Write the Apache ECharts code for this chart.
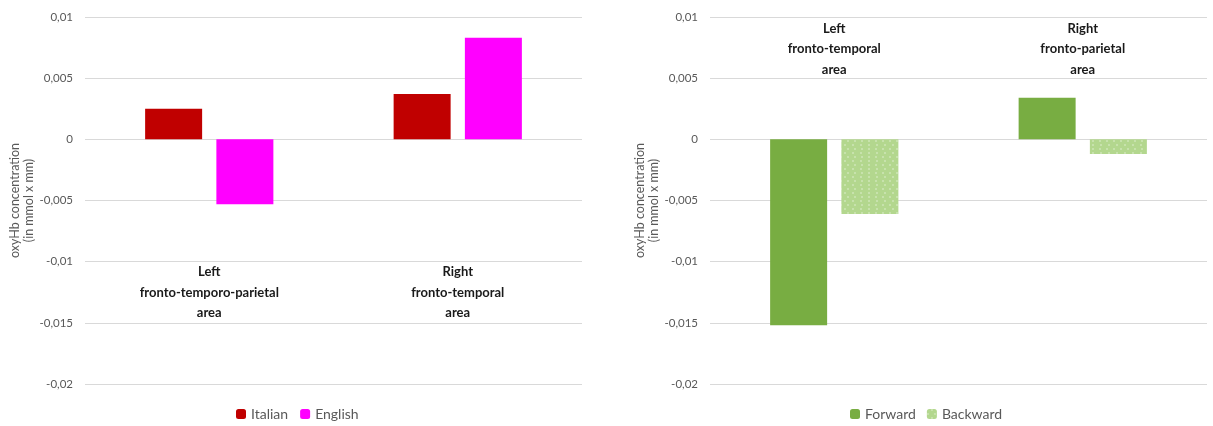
<!DOCTYPE html>
<html>
<head>
<meta charset="utf-8">
<script src="https://cdn.jsdelivr.net/npm/echarts@6/dist/echarts.min.js"></script>
<style>html,body{margin:0;padding:0;background:#fff;}#c{width:1213px;height:426px;}</style>
</head>
<body>
<div id="c"></div>
<script>
var leftCategories = ['Left\nfronto-temporo-parietal\narea', 'Right\nfronto-temporal\narea'];
var italian = [0.0025, 0.0037];
var english = [-0.0053, 0.0083];
var rightCategories = ['Left\nfronto-temporal\narea', 'Right\nfronto-parietal\narea'];
var forward = [-0.0152, 0.0034];
var backward = [-0.0061, -0.0012];
var yTicks = { min: -0.02, max: 0.01, interval: 0.005 };
var yTitle = 'oxyHb concentration\n(in mmol x mm)';

var fontFam = 'Lato, "Open Sans", sans-serif';
function fmt(v) { return String(+v.toFixed(3)).replace('.', ','); }
function yAxis(gi) {
  return {
    type: 'value', gridIndex: gi, min: yTicks.min, max: yTicks.max, interval: yTicks.interval,
    name: yTitle, nameLocation: 'middle', nameGap: 49, nameRotate: 90,
    nameTextStyle: { color: '#595959', fontSize: 12.5, lineHeight: 14, fontFamily: fontFam },
    axisLine: { show: false }, axisTick: { show: false },
    axisLabel: { formatter: fmt, color: '#595959', fontSize: 11.5, margin: 12, fontFamily: fontFam },
    splitLine: { lineStyle: { color: '#d9d9d9', width: 1 } }
  };
}
function xAxis(gi, cats, pos, off) {
  return {
    type: 'category', gridIndex: gi, data: cats, position: pos, offset: off,
    axisLine: { show: false }, axisTick: { show: false },
    axisLabel: { color: '#1a1a1a', fontSize: 13, fontWeight: 'bold', lineHeight: 20.5, margin: 0, fontFamily: fontFam }
  };
}
var chart = echarts.init(document.getElementById('c'));
chart.setOption({
  animation: false,
  grid: [
    { left: 85, right: 631, top: 17, bottom: 42 },
    { left: 710, right: 6, top: 17, bottom: 42 }
  ],
  xAxis: [ xAxis(0, leftCategories, 'bottom', -122), xAxis(1, rightCategories, 'top', -63) ],
  yAxis: [ yAxis(0), yAxis(1) ],
  legend: [
    { data: ['Italian', 'English'], left: 231, top: 402, itemWidth: 10, itemHeight: 10, itemGap: 12,
      textStyle: { color: '#595959', fontSize: 14, fontFamily: fontFam } },
    { data: ['Forward', 'Backward'], left: 845, top: 402, itemWidth: 10, itemHeight: 10, itemGap: 11,
      textStyle: { color: '#595959', fontSize: 14, fontFamily: fontFam } }
  ],
  series: [
    { name: 'Italian', type: 'bar', xAxisIndex: 0, yAxisIndex: 0, data: italian, barWidth: 57, barGap: '25%', itemStyle: { color: '#c00000' } },
    { name: 'English', type: 'bar', xAxisIndex: 0, yAxisIndex: 0, data: english, barWidth: 57, barGap: '25%', itemStyle: { color: '#ff00ff' } },
    { name: 'Forward', type: 'bar', xAxisIndex: 1, yAxisIndex: 1, data: forward, barWidth: 57, barGap: '25%', itemStyle: { color: '#78ad42' } },
    { name: 'Backward', type: 'bar', xAxisIndex: 1, yAxisIndex: 1, data: backward, barWidth: 57, barGap: '25%',
      itemStyle: { color: '#b3d78e', decal: { symbol: 'circle', symbolSize: 0.7, color: 'rgba(255,255,255,0.75)',
        dashArrayX: [[2, 5], [0, 3.5, 2, 1.5]], dashArrayY: [2, 1.5] } } }
  ]
});
</script>
</body>
</html>
